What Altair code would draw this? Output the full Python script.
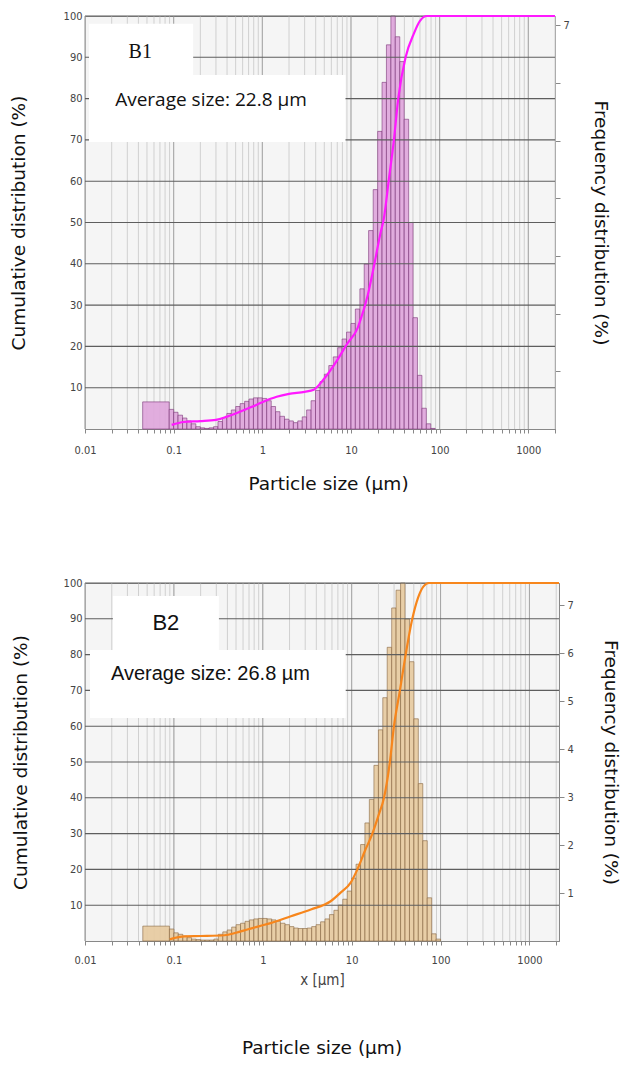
import altair as alt
import pandas as pd

# Size-class boundaries (µm) of the laser-diffraction histogram
edges = [0.0447, 0.0891, 0.100, 0.112, 0.126, 0.141, 0.158, 0.178, 0.200, 0.224,
         0.251, 0.282, 0.316, 0.355, 0.398, 0.447, 0.501, 0.562, 0.631, 0.708,
         0.794, 0.891, 1.00, 1.12, 1.26, 1.41, 1.58, 1.78, 2.00, 2.24,
         2.51, 2.82, 3.16, 3.55, 3.98, 4.47, 5.01, 5.62, 6.31, 7.08,
         7.94, 8.91, 10.0, 11.2, 12.6, 14.1, 15.8, 17.8, 20.0, 22.4,
         25.1, 28.2, 31.6, 35.5, 39.8, 44.7, 50.1, 56.2, 63.1, 70.8,
         79.4, 89.1, 100.0]

# Frequency distribution (%) per size class
freq_b1 = [0.47,
           0.34, 0.29, 0.24, 0.19, 0.14, 0.09, 0.04,
           0.02, 0.01, 0.02, 0.04,
           0.13, 0.20, 0.27, 0.33, 0.39, 0.44, 0.48, 0.52, 0.54, 0.54,
           0.53, 0.49, 0.39, 0.30, 0.22, 0.17, 0.14, 0.11, 0.14, 0.21,
           0.33, 0.49, 0.67, 0.82, 0.95, 1.10, 1.25, 1.41, 1.56, 1.68,
           1.83, 2.08, 2.43, 2.86, 3.44, 4.15, 5.16, 6.01, 6.66, 7.16,
           6.80, 6.37, 5.37, 3.58, 1.93, 0.93, 0.36, 0.09, 0.01, 0.0]
freq_b2 = [0.31,
           0.25, 0.17, 0.14, 0.10, 0.07, 0.04, 0.03,
           0.02, 0.02, 0.02, 0.04,
           0.14, 0.19, 0.23, 0.29, 0.34, 0.37, 0.41, 0.44, 0.46, 0.47,
           0.47, 0.46, 0.44, 0.41, 0.37, 0.34, 0.30, 0.27, 0.26, 0.26,
           0.27, 0.30, 0.34, 0.40, 0.46, 0.55, 0.64, 0.75, 0.87, 1.04,
           1.31, 1.60, 2.01, 2.46, 2.95, 3.66, 4.40, 5.07, 6.12, 6.94,
           7.31, 7.46, 6.71, 5.82, 4.63, 3.28, 2.09, 0.90, 0.15, 0.04]

# Cumulative distribution (%) against particle size (µm)
cum_size_b1 = [0.095, 0.13, 0.2, 0.3, 0.4, 0.55, 0.75, 1.0, 1.45, 2.0, 3.0, 3.8,
               4.9, 7.0, 9.1, 11.9, 12.8, 15.5, 18.1, 21.5, 23.5, 26.7, 30.5,
               34.1, 41.3, 51.3, 60.0, 72.0, 2000.0]
cum_pct_b1 = [1.0, 1.7, 1.9, 2.2, 3.0, 4.1, 5.3, 6.5, 7.8, 8.5, 9.0, 9.5,
              12.0, 16.7, 20.7, 24.5, 26.4, 32.5, 39.3, 47.4, 51.0, 60.3, 70.0,
              80.0, 90.0, 95.8, 98.8, 100.0, 100.0]
cum_size_b2 = [0.09, 0.1, 0.13, 0.2, 0.37, 0.5, 0.67, 0.9, 1.23, 2.07, 3.47, 5.8,
               7.5, 9.75, 11.6, 14.0, 17.1, 20.0, 23.1, 26.9, 29.9, 34.9, 40.5,
               48.1, 56.0, 64.0, 74.0, 2150.0]
cum_pct_b2 = [0.5, 0.8, 1.3, 1.4, 1.6, 2.3, 3.2, 4.1, 5.0, 6.9, 8.8, 11.1,
              13.5, 16.3, 20.0, 25.0, 30.0, 35.0, 40.0, 50.0, 60.0, 70.0, 80.0,
              90.0, 96.0, 99.0, 100.0, 100.0]

decades = [0.01, 0.1, 1, 10, 100, 1000]
pct_ticks = [10, 20, 30, 40, 50, 60, 70, 80, 90, 100]
freq_ticks = [1, 2, 3, 4, 5, 6, 7]
minor_vals = [round(m * d, 6) for d in decades for m in range(1, 10)]

TICK_FONT = "Liberation Sans Narrow, DejaVu Sans Condensed, sans-serif"
TITLE_FONT = "DejaVu Sans"

X_LABELS = ("indexof([0.01,0.1,1,10,100,1000], datum.value) >= 0 ? "
            "(datum.value < 1 ? format(datum.value, '.2~f') : format(datum.value, 'd')) : ''")


def panel(freq, cum_size, cum_pct, x_max, f_max, w, h, line_color, bar_fill,
          bar_stroke, boxes, tag, tag_font, tag_size, avg, avg_font, avg_size,
          x_axis, right_label_expr, left_title_x, right_title_x):
    xs = alt.Scale(type="log", domain=[0.01, x_max], nice=False)
    ys = alt.Scale(domain=[0, 100], nice=False, zero=True)
    fs = alt.Scale(domain=[0, f_max], nice=False, zero=True)

    def X(field):
        # every layer carries the same bottom axis so the shared axis survives merging
        return alt.X(field, scale=xs, axis=x_axis, title=None)

    grid_minor = pd.DataFrame({"size": [v for v in minor_vals if v <= x_max]})
    grid_major = pd.DataFrame({"size": [v for v in decades if v <= x_max]})

    vminor = alt.Chart(grid_minor).mark_rule(color="#d0d0d0", strokeWidth=1).encode(
        x=X("size:Q"))
    vmajor = alt.Chart(grid_major).mark_rule(color="#a6a6a6", strokeWidth=1).encode(
        x=X("size:Q"))

    bars_df = pd.DataFrame({"size": edges[:-1], "hi": edges[1:], "freq": freq,
                            "base": [0.0] * len(freq)})
    bars_df = bars_df[bars_df["freq"] > 0]
    bars = alt.Chart(bars_df).mark_rect(
        fill=bar_fill, fillOpacity=0.9, stroke=bar_stroke, strokeWidth=0.7,
        strokeOpacity=0.85).encode(
        x=X("size:Q"),
        x2="hi:Q",
        y=alt.Y("freq:Q", scale=fs, axis=alt.Axis(
            orient="right", values=freq_ticks, labelExpr=right_label_expr,
            tickSize=5, tickColor="#888", domainColor="#888", labelPadding=3,
            labelFont=TICK_FONT, labelFontSize=11, labelColor="#444", grid=False,
            title="Frequency distribution (%)", titleFont=TITLE_FONT,
            titleFontSize=18.5, titleFontWeight="normal", titleColor="#111",
            titleAngle=90, titleBaseline="middle", titleX=right_title_x,
            titleY=h / 2)),
        y2="base:Q")

    hgrid = alt.Chart(pd.DataFrame({"pct": pct_ticks})).mark_rule(
        color="#5e5e5e", strokeWidth=1.1).encode(
        y=alt.Y("pct:Q", scale=ys, axis=None))

    box_df = pd.DataFrame(boxes, columns=["size", "x1", "y0", "y1"])
    box = alt.Chart(box_df).mark_rect(fill="white").encode(
        x=X("size:Q"), x2="x1:Q",
        y=alt.Y("y0:Q", scale=ys, axis=None), y2="y1:Q")

    tag_df = pd.DataFrame([{"size": tag[1], "pct": tag[2], "label": tag[0]}])
    tag_txt = alt.Chart(tag_df).mark_text(
        font=tag_font, fontSize=tag_size, color="#111", align="center",
        baseline="middle").encode(
        x=X("size:Q"),
        y=alt.Y("pct:Q", scale=ys, axis=None), text="label:N")

    avg_df = pd.DataFrame([{"size": avg[1], "pct": avg[2], "label": avg[0]}])
    avg_txt = alt.Chart(avg_df).mark_text(
        font=avg_font, fontSize=avg_size, color="#111", align="left",
        baseline="middle").encode(
        x=X("size:Q"),
        y=alt.Y("pct:Q", scale=ys, axis=None), text="label:N")

    curve_df = pd.DataFrame({"size": cum_size, "pct": cum_pct})
    curve = alt.Chart(curve_df).mark_line(
        color=line_color, strokeWidth=2.2, interpolate="monotone").encode(
        x=X("size:Q"),
        y=alt.Y("pct:Q", scale=ys, axis=alt.Axis(
            orient="left", values=pct_ticks, ticks=False, labelPadding=3,
            labelFont=TICK_FONT, labelFontSize=11, labelColor="#444",
            domainColor="#888", grid=False,
            title="Cumulative distribution (%)", titleFont=TITLE_FONT,
            titleFontSize=18.5, titleFontWeight="normal", titleColor="#111",
            titleAngle=-90, titleBaseline="middle", titleX=left_title_x,
            titleY=h / 2)))

    return alt.layer(vminor, vmajor, bars, hgrid, box, tag_txt, avg_txt, curve).resolve_scale(
        y="independent").properties(width=w, height=h)


x_axis_1 = alt.Axis(
    values=minor_vals, labelExpr=X_LABELS, tickSize=4, tickColor="#888",
    domainColor="#888", labelFont=TICK_FONT, labelFontSize=11, labelColor="#444",
    labelPadding=11, labelFlush=False, labelOverlap=False, grid=False,
    title="Particle size (µm)", titleFont=TITLE_FONT, titleFontSize=18.5,
    titleFontWeight="normal", titleColor="#111", titleBaseline="middle",
    titleX=243, titleY=54)

x_axis_2 = alt.Axis(
    values=minor_vals, labelExpr=X_LABELS, tickSize=4, tickColor="#888",
    domainColor="#888", labelFont=TICK_FONT, labelFontSize=11, labelColor="#444",
    labelPadding=9, labelFlush=False, labelOverlap=False, grid=False,
    title="x [µm]", titleFont=TICK_FONT, titleFontSize=15,
    titleFontWeight="normal", titleColor="#444", titleBaseline="middle",
    titleX=237, titleY=38)

top = panel(
    freq_b1, cum_size_b1, cum_pct_b1, 2000, 7.16, 470, 413, "#ff19ff", "#dfa5db",
    "#7a3576",
    [(0.0111, 0.166, 85.7, 98.1), (0.0111, 8.67, 69.5, 85.7)],
    ("B1", 0.042, 91.3), "Liberation Serif", 20,
    ("Average size: 22.8 µm", 0.0219, 79.7), "Open Sans", 19,
    x_axis_1, "datum.value == 7 ? '7' : ''", -67, 45)

bottom = panel(
    freq_b2, cum_size_b2, cum_pct_b2, 2150, 7.46, 474, 358, "#f7861c", "#e7ca9f",
    "#86643f",
    [(0.0206, 0.321, 81.3, 96.4), (0.01138, 8.57, 62.3, 81.3)],
    ("B2", 0.0813, 88.8), "Liberation Sans", 22,
    ("Average size: 26.8 µm", 0.0196, 74.6), "Liberation Sans", 20,
    x_axis_2, "datum.label", -65, 51).properties(
    title=alt.TitleParams("Particle size (µm)", orient="bottom", anchor="middle",
                          font=TITLE_FONT, fontSize=18.5, fontWeight="normal",
                          color="#111", offset=52))

chart = alt.vconcat(top, bottom, spacing=83).properties(
    padding={"left": 8, "top": 9, "right": 0, "bottom": 0},
    background="white",
).configure_view(stroke="#888", fill="#f5f5f5")

chart.save("out.html", embed_options={"renderer": "svg", "actions": False})
